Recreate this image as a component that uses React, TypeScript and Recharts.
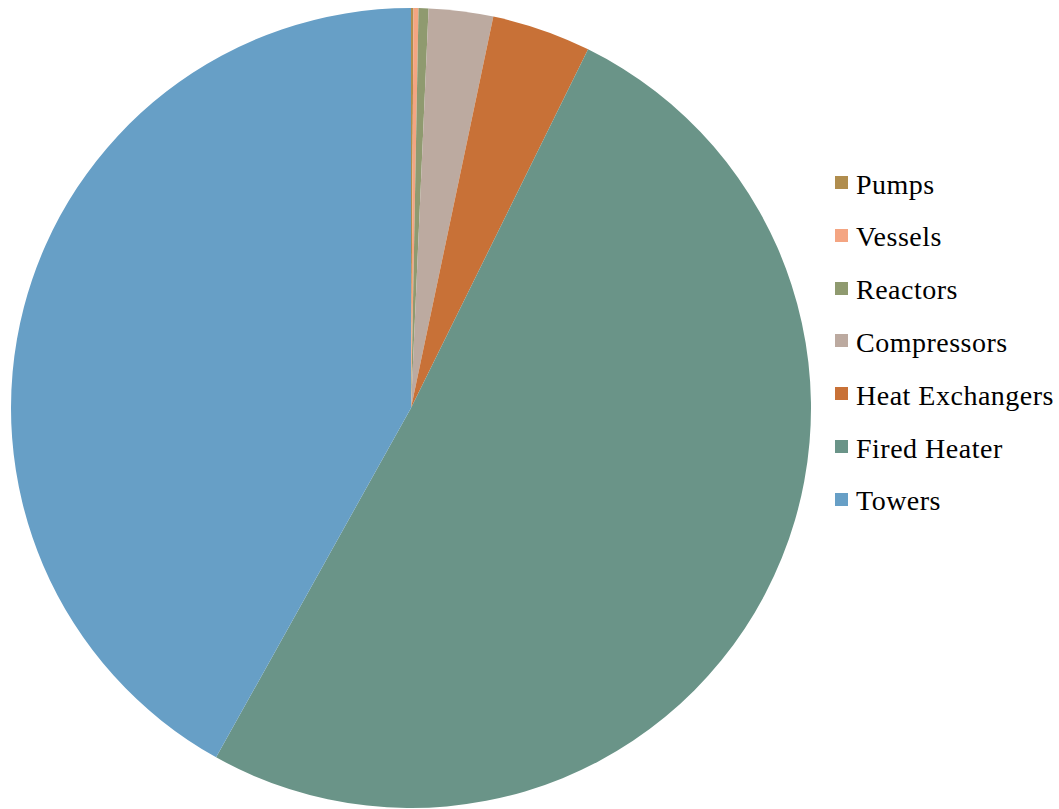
import { PieChart, Pie, Cell, Legend } from 'recharts'

const categories = ['Pumps', 'Vessels', 'Reactors', 'Compressors', 'Heat Exchangers', 'Fired Heater', 'Towers']
const shares = [0.1, 0.2, 0.4, 2.6, 4.0, 50.8, 41.9]
const colors = ['#b08d4e', '#f4a582', '#8f9a6f', '#bcaaa0', '#c87137', '#6a9488', '#679fc6']

const data = categories.map((name, i) => ({ name, value: shares[i] }))

const LegendList = () => (
  <div style={{ fontFamily: '"Liberation Serif", "Times New Roman", serif', fontSize: 28, letterSpacing: 0.5, color: '#000' }}>
    {categories.map((name, i) => (
      <div key={name} style={{ position: 'relative', height: 52.8, lineHeight: '28px' }}>
        <span
          style={{
            position: 'absolute',
            left: 0,
            top: 5.5,
            width: 13,
            height: 13,
            background: colors[i],
          }}
        />
        <span style={{ position: 'absolute', left: 21, top: 0, whiteSpace: 'nowrap' }}>{name}</span>
      </div>
    ))}
  </div>
)

export default function App() {
  return (
    <div style={{ position: 'absolute', left: 0, top: 0, width: 1059, height: 809, background: '#fff' }}>
      <PieChart width={1059} height={809} margin={{ top: 0, right: 0, bottom: 0, left: 0 }}>
        <Pie
          data={data}
          dataKey="value"
          nameKey="name"
          cx={411}
          cy={408}
          outerRadius={400}
          startAngle={90}
          endAngle={-270}
          stroke="none"
          isAnimationActive={false}
        >
          {data.map((d, i) => (
            <Cell key={d.name} fill={colors[i]} />
          ))}
        </Pie>
        <Legend
          layout="vertical"
          content={<LegendList />}
          wrapperStyle={{ left: 835, top: 170.6, width: 224, bottom: 'auto', right: 'auto' }}
        />
      </PieChart>
    </div>
  )
}
